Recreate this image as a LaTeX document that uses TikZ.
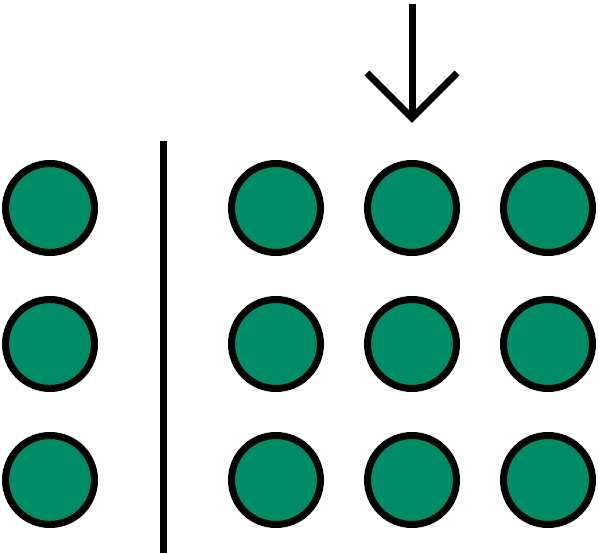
\documentclass[tikz,border=0pt]{standalone}
\usepackage{tikz}
\usetikzlibrary{positioning}
\definecolor{dotgreen}{RGB}{0,140,102}
\tikzstyle{dot} = [circle, draw=black, fill=dotgreen, line width=7pt, minimum size=89pt, inner sep=0pt]
\tikzstyle{bar} = [line width=7pt, color=black]

\begin{document}
\begin{tikzpicture}[x=1pt, y=-1pt]
\useasboundingbox (0,0) rectangle (598,553);

% Left column
\node (l1) [dot] at (50,208) {};
\node (l2) [dot] at (50,344) {};
\node (l3) [dot] at (50,480) {};

% Divider
\coordinate (divtop) at (163,141);
\coordinate (divbot) at (163,553);
\draw[bar] (divtop) -- (divbot);

% Right grid
\foreach \c/\x in {a/276, b/412, c/548} {
  \foreach \r/\y in {1/208, 2/344, 3/480} {
    \node (\c\r) [dot] at (\x,\y) {};
  }
}

% Pointer
\coordinate (ptop) at (412,4);
\coordinate (ptip) at (412,118);
\coordinate (pleft) at (367,73);
\coordinate (pright) at (457,73);
\draw[bar] (ptop) -- (ptip);
\draw[bar, miter limit=10] (pleft) -- (ptip) -- (pright);
\end{tikzpicture}
\end{document}
